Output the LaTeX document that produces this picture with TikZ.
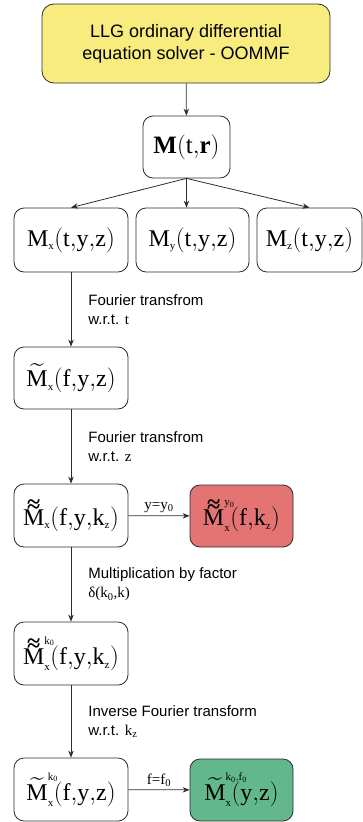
\documentclass[tikz,border=0pt]{standalone}
\usepackage{amsmath}
\usepackage{fontspec}
\setmainfont{Liberation Serif}
\newfontfamily\labelfont{Liberation Sans}
\usetikzlibrary{arrows.meta}
\DeclareMathSizes{24}{24}{11}{8}

\definecolor{solveryellow}{RGB}{249,236,126}
\definecolor{ycutred}{RGB}{228,116,116}
\definecolor{fcutgreen}{RGB}{98,184,138}
\definecolor{boxline}{RGB}{45,45,45}

% tilde and double tilde over M, superscripts that do not push the text
\newcommand{\Mtil}{\widetilde{\mathrm{M}}}
\newcommand{\Mdtil}{\mathord{\vbox{\offinterlineskip\halign{\hfil##\hfil\cr
  \textbf{≈}\cr\noalign{\kern-3pt}$\mathrm{M}$\cr}}}}
\newcommand{\olap}[2][0pt]{\rlap{\raisebox{#1}{$\scriptstyle\mathrm{#2}$}}}

\begin{document}
\begin{tikzpicture}[x=1pt, y=-1pt, >={Stealth[length=7pt,width=5.5pt]},
  box/.style={draw=boxline, line width=0.8pt, rounded corners=10pt, fill=white,
    inner sep=0pt, align=center, font=\fontsize{24}{28}\selectfont},
  flow/.style={->, draw=boxline, line width=0.8pt},
  steplabel/.style={right, inner sep=0pt, xshift=17pt, align=left,
    font=\labelfont\fontsize{15}{19}\selectfont},
  cutlabel/.style={above, inner sep=3pt, font=\fontsize{15}{18}\selectfont}]
  % Page frame (363 x 822)
  \useasboundingbox (0,0) rectangle (363,822);
  % Solver and full magnetisation
  \node[box, fill=solveryellow, minimum width=288pt, minimum height=79pt,
    rounded corners=12pt, font=\labelfont\fontsize{18}{22}\selectfont]
    (solver) at (186,43.5) {LLG ordinary differential\\equation solver - OOMMF};
  \node[box, minimum width=87pt, minimum height=62pt, font=\fontsize{25}{29}\selectfont]
    (Mtr) at (186.5,147) {$\mathbf{M}\mathrm{(t{,}}\mathbf{r}\mathrm{)}$};
  % Components
  \node[box, minimum width=114pt, minimum height=64pt] (Mx) at (71,240)
    {$\mathrm{M_x(t{,}y{,}z)}$};
  \node[box, minimum width=113pt, minimum height=64pt] (My) at (192.5,240)
    {$\mathrm{M_y(t{,}y{,}z)}$};
  \node[box, minimum width=105pt, minimum height=64pt] (Mz) at (309.5,240)
    {$\mathrm{M_z(t{,}y{,}z)}$};
  % Processing chain for M_x
  \node[box, minimum width=114pt, minimum height=62pt] (Mf) at (71,378)
    {$\mathrm{\Mtil_x(f{,}y{,}z)}$};
  \node[box, minimum width=114pt, minimum height=63pt] (Mfk) at (71,515.5)
    {$\mathrm{\Mdtil_x(f{,}y{,}k_z)}$};
  \node[box, fill=ycutred, minimum width=103pt, minimum height=62pt] (Mcut) at (241.5,516)
    {$\mathrm{\Mdtil^{\olap[-1pt]{y_0}}_x(f{,}k_z)}$};
  \node[box, minimum width=114pt, minimum height=63pt] (Mk) at (71,653.5)
    {$\mathrm{\Mdtil^{\olap[-1pt]{k_0}}_x(f{,}y{,}k_z)}$};
  \node[box, minimum width=114pt, minimum height=63pt] (Minv) at (71,789.5)
    {$\mathrm{\Mtil^{\olap[11pt]{k_0}}_x(f{,}y{,}z)}$};
  \node[box, fill=fcutgreen, minimum width=103pt, minimum height=62pt] (Mmode) at (241.5,790)
    {$\mathrm{\Mtil^{\olap[11pt]{k_0{,}f_0}}_x(y{,}z)}$};
  % Connectors
  \draw[flow] (solver) -- (Mtr);
  \draw[flow] (Mtr.south) -- (Mx.north);
  \draw[flow] (Mtr.south) -- (Mtr.south |- My.north);
  \draw[flow] (Mtr.south) -- (Mz.north);
  \draw[flow] (Mx) -- node[steplabel] {Fourier transfrom\\w.r.t. {\rmfamily t}} (Mf);
  \draw[flow] (Mf) -- node[steplabel] {Fourier transfrom\\w.r.t. {\rmfamily z}} (Mfk);
  \draw[flow] (Mfk) -- node[cutlabel] {y=y\textsubscript{0}} (Mcut);
  \draw[flow] (Mfk) -- node[steplabel] {Multiplication by factor\\{\rmfamily δ(k\textsubscript{0},k)}} (Mk);
  \draw[flow] (Mk) -- node[steplabel] {Inverse Fourier transform\\w.r.t. {\rmfamily k\textsubscript{z}}} (Minv);
  \draw[flow] (Minv) -- node[cutlabel] {f=f\textsubscript{0}} (Mmode);
\end{tikzpicture}
\end{document}
